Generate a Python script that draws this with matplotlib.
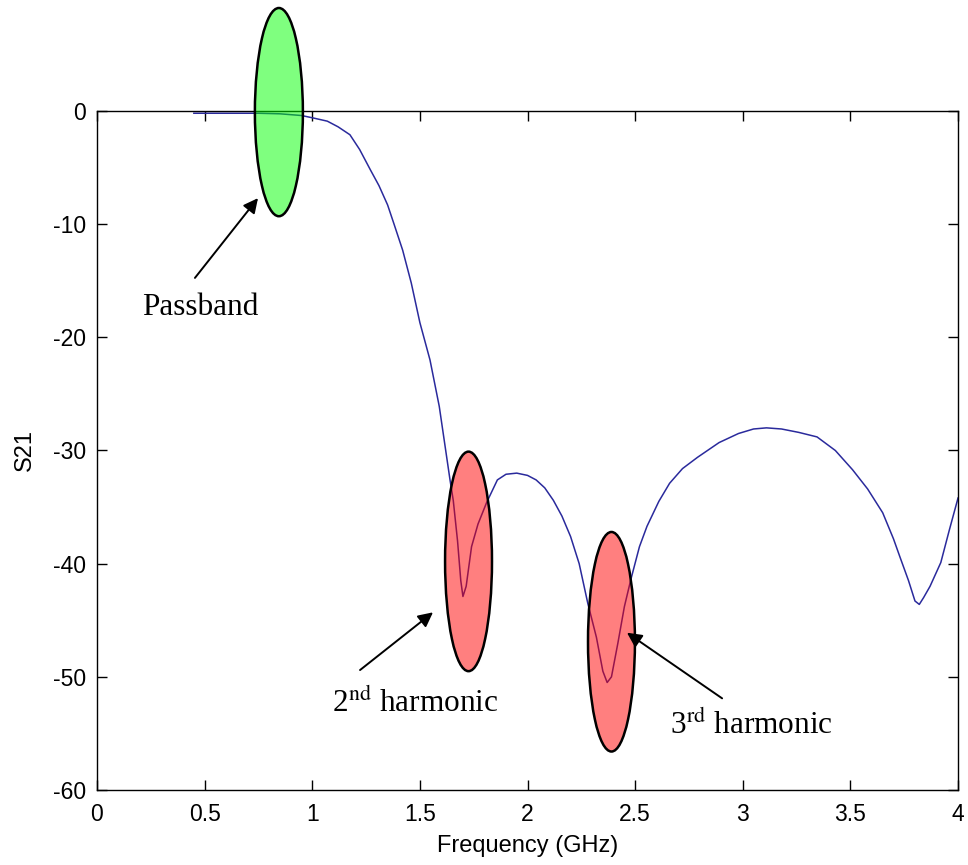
import matplotlib
matplotlib.use("Agg")
import matplotlib.pyplot as plt
from matplotlib.patches import Ellipse

# S21 response
freq = [0.45, 0.55, 0.65, 0.75, 0.85, 0.95, 1.00, 1.07, 1.12, 1.175, 1.22, 1.27,
        1.31, 1.35, 1.38, 1.42, 1.46, 1.50, 1.547, 1.59, 1.62, 1.64, 1.655, 1.675,
        1.69, 1.70, 1.715, 1.74, 1.77, 1.81, 1.86, 1.90, 1.95, 2.00, 2.04, 2.08,
        2.12, 2.16, 2.20, 2.24, 2.28, 2.32, 2.35, 2.37, 2.39, 2.42, 2.45, 2.48,
        2.52, 2.555, 2.61, 2.66, 2.72, 2.79, 2.89, 2.98, 3.05, 3.11, 3.18, 3.26,
        3.345, 3.43, 3.51, 3.58, 3.65, 3.70, 3.73, 3.77, 3.80, 3.82, 3.84, 3.87,
        3.92, 3.96, 4.00]
s21 = [-0.2, -0.2, -0.2, -0.2, -0.25, -0.4, -0.6, -0.9, -1.4, -2.1, -3.4, -5.2,
       -6.6, -8.3, -10.0, -12.3, -15.2, -18.7, -22.0, -26.1, -30.0, -32.6, -34.4, -38.0,
       -41.5, -42.9, -42.0, -38.5, -36.5, -34.6, -32.6, -32.1, -32.0, -32.2, -32.6, -33.3,
       -34.4, -35.8, -37.6, -40.0, -43.5, -46.5, -49.5, -50.5, -50.0, -47.0, -43.8, -41.4,
       -38.5, -36.7, -34.5, -32.9, -31.6, -30.6, -29.3, -28.5, -28.1, -28.0, -28.1, -28.4,
       -28.8, -30.0, -31.7, -33.4, -35.5, -37.8, -39.4, -41.5, -43.3, -43.6, -43.0, -42.0,
       -39.9, -37.0, -34.2]

# highlighted regions: centre (GHz, dB), size (GHz, dB), colour
regions_f = [0.845, 1.726, 2.39]
regions_db = [-0.1, -39.8, -46.9]
regions_w = [0.223, 0.218, 0.218]
regions_h = [18.4, 19.4, 19.4]
regions_c = ["#00ff00", "#ff0000", "#ff0000"]

labels = ["Passband", "2$^{\\rm nd}$ harmonic", "3$^{\\rm rd}$ harmonic"]
label_xy = [(0.478, -17.4), (1.477, -52.4), (3.04, -54.3)]
arrow_tail = [(0.455, -14.75), (1.222, -49.4), (2.904, -51.9)]
arrow_tip = [(0.748, -7.7), (1.561, -44.3), (2.462, -46.1)]

plt.rcParams["mathtext.fontset"] = "stix"
plt.rcParams["axes.unicode_minus"] = False
tick_font = ["Liberation Sans", "DejaVu Sans"]

fig = plt.figure(figsize=(9.68, 8.65), dpi=100)
ax = fig.add_axes([0.1002, 0.0867, 0.8895, 0.785])
ax.plot(freq, s21, color="#2a2a9c", lw=1.1)
ax.set_xlim(0, 4); ax.set_ylim(-60, 0)
ax.set_xticks([0, 0.5, 1, 1.5, 2, 2.5, 3, 3.5, 4])
ax.set_xticklabels(["0", "0.5", "1", "1.5", "2", "2.5", "3", "3.5", "4"])
ax.set_yticks([-60, -50, -40, -30, -20, -10, 0])
ax.tick_params(direction="in", length=7, width=1, top=True, right=True, labelsize=16.5)
ax.tick_params(axis="x", pad=9)
ax.tick_params(axis="y", pad=8)
for t in ax.get_xticklabels() + ax.get_yticklabels():
    t.set_family(tick_font)
for s in ax.spines.values():
    s.set_linewidth(1)
ax.set_xlabel("Frequency (GHz)", fontsize=17, family=tick_font, labelpad=7)
ax.set_ylabel("S21", fontsize=17, family=tick_font, labelpad=12)

for f, d, w, h, c in zip(regions_f, regions_db, regions_w, regions_h, regions_c):
    ax.add_patch(Ellipse((f, d), w, h, facecolor=c, alpha=0.5, edgecolor="none",
                         clip_on=False, zorder=3))
    ax.add_patch(Ellipse((f, d), w, h, facecolor="none", edgecolor="black", lw=1.8,
                         clip_on=False, zorder=4))

for lab, lxy, tail, tip in zip(labels, label_xy, arrow_tail, arrow_tip):
    ax.annotate("", xy=tip, xytext=tail,
                arrowprops=dict(arrowstyle="-|>", color="black", lw=1.4, mutation_scale=22,
                                shrinkA=0, shrinkB=0), zorder=5)
    ax.text(lxy[0], lxy[1], lab, ha="center", va="center", fontsize=22.5,
            family="Liberation Serif", zorder=5)

fig.savefig("out.png", dpi=100)
